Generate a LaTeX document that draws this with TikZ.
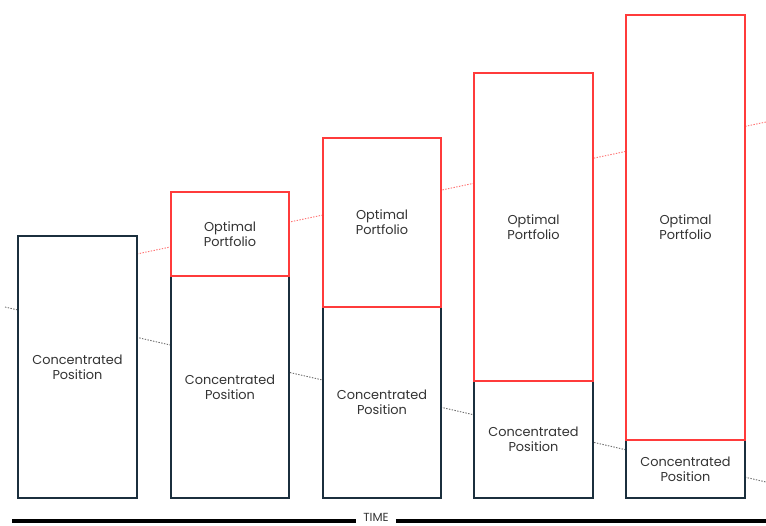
\documentclass[tikz,border=0pt]{standalone}
\usepackage{fontspec}
\setmainfont{Poppins}
\usetikzlibrary{calc}
\definecolor{posline}{HTML}{1B2F3D}
\definecolor{optline}{HTML}{FF3B3B}
\definecolor{trendgray}{HTML}{707070}
\tikzset{posbox/.style={draw=posline, line width=1pt, fill=white}}
\tikzset{optbox/.style={draw=optline, line width=1pt, fill=white}}
\tikzset{lbl/.style={align=center, font=\fontsize{11}{12.8}\selectfont, text=black!80}}
\tikzset{trend/.style={dash pattern=on 1.2pt off 1.2pt, line width=0.8pt}}

\begin{document}
\begin{tikzpicture}[x=0.03cm, y=-0.03cm]
        \useasboundingbox (0,0) rectangle (766,525);
        % trend lines behind the boxes
        \coordinate (g0) at (5,307);
        \coordinate (g1) at (766,482);
        \coordinate (r0) at (137,254);
        \coordinate (r1) at (766,122);
        \draw [trend, trendgray] (g0) -- (g1);
        \draw [trend, optline!70] (r0) -- (r1);
        % columns
        \draw [posbox] (18,236) rectangle (137,498);
        \draw [posbox] (171,276) rectangle (289,498);
        \draw [optbox] (171,192) rectangle (289,276);
        \draw [posbox] (323,307) rectangle (441,498);
        \draw [optbox] (323,138) rectangle (441,307);
        \draw [posbox] (474,381) rectangle (593,498);
        \draw [optbox] (474,73) rectangle (593,381);
        \draw [posbox] (626,440) rectangle (745,498);
        \draw [optbox] (626,15) rectangle (745,440);
        % labels
        \node [lbl] (c1) at (77.5,367) {Concentrated\\Position};
        \node [lbl] (c2) at (230,387) {Concentrated\\Position};
        \node [lbl] (o2) at (230,234) {Optimal\\Portfolio};
        \node [lbl] (c3) at (382,402.5) {Concentrated\\Position};
        \node [lbl] (o3) at (382,222.5) {Optimal\\Portfolio};
        \node [lbl] (c4) at (533.5,439.5) {Concentrated\\Position};
        \node [lbl] (o4) at (533.5,227) {Optimal\\Portfolio};
        \node [lbl] (c5) at (685.5,469) {Concentrated\\Position};
        \node [lbl] (o5) at (685.5,227.5) {Optimal\\Portfolio};
        % time axis
        \node [font=\fontsize{10}{10}\selectfont, text=black!80, inner xsep=6pt, inner ysep=0pt] (time) at (376,517) {TIME};
        \coordinate (t0) at (12,521);
        \coordinate (t1) at (766,521);
        \draw [line width=2.6pt] (t0) -- (t0 -| time.west);
        \draw [line width=2.6pt] (t0 -| time.east) -- (t1);
\end{tikzpicture}
\end{document}
